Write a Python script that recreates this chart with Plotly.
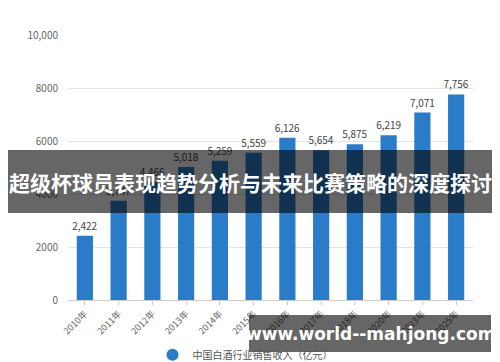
import plotly.graph_objects as go

years = ["2010年", "2011年", "2012年", "2013年", "2014年", "2015年", "2016年", "2017年", "2018年", "2020年", "2023年", "2025年"]
values = [2422, 3747, 4466, 5018, 5259, 5559, 6126, 5654, 5875, 6219, 7071, 7756]
value_labels = ["2,422", "3,747", "4,466", "5,018", "5,259", "5,559", "6,126", "5,654", "5,875", "6,219", "7,071", "7,756"]
y_ticks = [0, 2000, 4000, 6000, 8000, 10000]
y_ticktext = ["0", "2000", "4000", "6000", "8000", "10,000"]
series_name = "中国白酒行业销售收入（亿元）"
banner_title = "超级杯球员表现趋势分析与未来比赛策略的深度探讨"
banner_url = "www.world--mahjong.com"

BLUE = "#2a7bc8"
FONT = "Noto Sans CJK SC, Noto Sans, sans-serif"
L, R, T, B = 68, 27, 35, 62
PW, PH = 500 - L - R, 362 - T - B


def px(x):
    return (x - L) / PW


def py(y):
    return (362 - B - y) / PH


fig = go.Figure()
fig.add_trace(go.Bar(
    x=years, y=values, text=value_labels, textposition="outside", constraintext="none",
    textfont=dict(size=10, color="#444", family=FONT),
    marker=dict(color=BLUE, line=dict(width=0)),
    width=0.48, showlegend=False, cliponaxis=False,
))
fig.add_trace(go.Scatter(
    x=[None], y=[None], mode="markers", name=series_name,
    marker=dict(symbol="circle", size=12, color=BLUE),
))

fig.update_layout(
    width=500, height=362,
    margin=dict(l=L, r=R, t=T, b=B, autoexpand=False),
    paper_bgcolor="white", plot_bgcolor="white",
    font=dict(family=FONT, color="#666"),
    showlegend=True,
    legend=dict(orientation="h", x=0.49, xanchor="center", xref="container",
                y=0.02, yanchor="middle", yref="container",
                font=dict(size=10, color="#555"), bgcolor="rgba(0,0,0,0)"),
    xaxis=dict(tickangle=-45, tickfont=dict(size=9, color="#666"), showgrid=False, automargin=False,
               showline=True, linecolor="#ccc", ticks="outside", ticklen=4, tickcolor="#ccc"),
    yaxis=dict(range=[0, 10000], tickvals=y_ticks, ticktext=y_ticktext, automargin=False,
               tickfont=dict(size=10, color="#666"), gridcolor="#e3e3e3", zeroline=False,
               showline=False, ticklabelstandoff=9),
)

fig.add_shape(type="rect", xref="paper", yref="paper", x0=px(8), x1=px(492),
              y0=py(213), y1=py(150), fillcolor="rgba(0,0,0,0.6)", line=dict(width=0), layer="above")
fig.add_annotation(xref="paper", yref="paper", x=px(250), y=py(182), text="<b>%s</b>" % banner_title,
                   showarrow=False, font=dict(size=21, color="white", family=FONT), xanchor="center", yanchor="middle")
fig.add_shape(type="rect", xref="paper", yref="paper", x0=px(249), x1=px(491),
              y0=py(352), y1=py(315), fillcolor="rgba(0,0,0,0.6)", line=dict(width=0), layer="above")
fig.add_annotation(xref="paper", yref="paper", x=px(370), y=py(334), text="<b>%s</b>" % banner_url,
                   showarrow=False, font=dict(size=17, color="white", family="DejaVu Sans, sans-serif"),
                   xanchor="center", yanchor="middle")

fig.write_html("out.html")
